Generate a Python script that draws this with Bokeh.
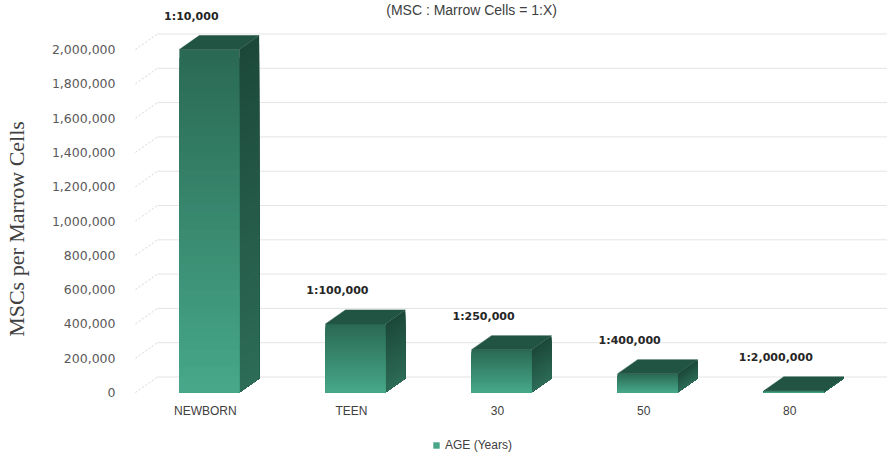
from bokeh.plotting import figure
from bokeh.models import FixedTicker, NumeralTickFormatter, Legend, LegendItem
from bokeh.core.properties import value
from bokeh.embed import file_html
from bokeh.resources import INLINE

# ---------------- data ----------------
categories = ["NEWBORN", "TEEN", "30", "50", "80"]
msc_values = [2000000, 400000, 250000, 110000, 10000]
ratio_labels = ["1:10,000", "1:100,000", "1:250,000", "1:400,000", "1:2,000,000"]
y_ticks = [0, 200000, 400000, 600000, 800000, 1000000, 1200000, 1400000,
           1600000, 1800000, 2000000]
series_name = "AGE (Years)"
y_title = "MSCs per Marrow Cells"
chart_title = "(MSC : Marrow Cells = 1:X)"

# ---------------- layout (pixels) ----------------
W, H = 887, 457
LEFT = 125
PX_CAT = 146.5            # px per category step
PX_VAL = 171.5 / 1e6      # px per value unit
ZERO_FROM_BOTTOM = 65     # px from canvas bottom to value 0 (front plane)
FIRST_CAT = 82            # px from frame left to first category centre

def dx(px):
    return px / PX_CAT

def dy(px):
    return px / PX_VAL

x_start = -dx(FIRST_CAT)
x_end = x_start + dx(W - LEFT)
y_start = -dy(ZERO_FROM_BOTTOM)
y_end = y_start + dy(H)

p = figure(width=W, height=H, x_range=(x_start, x_end), y_range=(y_start, y_end),
           output_backend="svg", toolbar_location=None,
           min_border_left=LEFT, min_border_right=0, min_border_top=0, min_border_bottom=0)
p.outline_line_color = None
p.xaxis.visible = False
p.xgrid.visible = False
p.ygrid.visible = False
p.background_fill_color = "white"
p.border_fill_color = "white"

ya = p.yaxis[0]
ya.ticker = FixedTicker(ticks=y_ticks)
ya.formatter = NumeralTickFormatter(format="0,0")
ya.axis_line_color = None
ya.major_tick_line_color = None
ya.minor_tick_line_color = None
ya.major_label_standoff = 6
ya.major_label_text_font = "DejaVu Sans"
ya.major_label_text_font_size = "12.5px"
ya.major_label_text_color = "#595959"
ya.axis_label = y_title
ya.axis_label_text_font = "Liberation Serif"
ya.axis_label_text_font_size = "22px"
ya.axis_label_text_font_style = "normal"
ya.axis_label_text_color = "#404040"
ya.axis_label_standoff = 20

# ---------------- back wall grid + diagonal leaders ----------------
WALL_X = x_start + dx(30)
WALL_DY = dy(15.5)
p.segment(x0=[WALL_X] * len(y_ticks), y0=[t + WALL_DY for t in y_ticks],
          x1=[x_end] * len(y_ticks), y1=[t + WALL_DY for t in y_ticks],
          line_color="#e4e4e4", line_width=1)
p.segment(x0=[x_start + dx(8)] * len(y_ticks), y0=y_ticks,
          x1=[WALL_X] * len(y_ticks), y1=[t + WALL_DY for t in y_ticks],
          line_color="#d6d6d6", line_width=1, line_dash="2 2")

# ---------------- 3D bars ----------------
def mix(c1, c2, f):
    a = [int(c1[i:i + 2], 16) for i in (1, 3, 5)]
    b = [int(c2[i:i + 2], 16) for i in (1, 3, 5)]
    return "#%02x%02x%02x" % tuple(round(a[k] + (b[k] - a[k]) * f) for k in range(3))

FRONT_BOTTOM, FRONT_TOP = "#47a889", "#2a6954"
SIDE_BOTTOM, SIDE_TOP = "#2d6c57", "#1c4839"
TOP_COLOR = "#215443"
HW = dx(30)
DDX, DDY = dx(20), dy(14)
N = 40

# overlapping bands: each band runs from 0 up to its own top, drawn tallest first,
# so no seams appear between neighbouring colours
fl, fr, fb, ft, fc = [], [], [], [], []
sxs, sys_, sc = [], [], []
txs, tys = [], []
for k in range(N, 0, -1):
    f = (k - 0.5) / N
    for i, v in enumerate(msc_values):
        t = v * k / N
        fl.append(i - HW); fr.append(i + HW); fb.append(0); ft.append(t)
        fc.append(mix(FRONT_BOTTOM, FRONT_TOP, f))
        sxs.append([i + HW, i + HW + DDX, i + HW + DDX, i + HW])
        sys_.append([0, DDY, t + DDY, t])
        sc.append(mix(SIDE_BOTTOM, SIDE_TOP, f))
for i, v in enumerate(msc_values):
    txs.append([i - HW, i - HW + DDX, i + HW + DDX, i + HW])
    tys.append([v, v + DDY, v + DDY, v])

p.patches(xs=sxs, ys=sys_, fill_color=sc, line_color=None)
front = p.quad(left=fl, right=fr, bottom=fb, top=ft, fill_color=fc, line_color=None)
p.patches(xs=txs, ys=tys, fill_color=TOP_COLOR, line_color=TOP_COLOR, line_width=0.5)

# ---------------- texts ----------------
xs_idx = list(range(len(categories)))
p.text(x=[i - dx(18) for i in xs_idx], y=[v + dy(33) for v in msc_values], text=ratio_labels,
       text_font=value("DejaVu Sans"), text_font_style="bold", text_font_size="11px",
       text_color="#262626", text_align="center", text_baseline="middle")

p.text(x=[i - dx(4) for i in xs_idx], y=[-dy(18)] * len(categories), text=categories,
       text_font=value("Liberation Sans"), text_font_size="12px",
       text_color="#404040", text_align="center", text_baseline="middle")

p.text(x=[x_start + dx(470 - LEFT)], y=[dy(392 - 9)], text=[chart_title],
       text_font=value("Liberation Sans"), text_font_size="14px",
       text_color="#404040", text_align="center", text_baseline="middle")

# ---------------- legend ----------------
legend = Legend(items=[LegendItem(label=series_name, renderers=[front], index=len(fc) - 1)],
                location=(430 - LEFT, 5), orientation="horizontal",
                glyph_width=8, glyph_height=8, padding=0, margin=0, spacing=0,
                label_standoff=5, border_line_color=None, background_fill_alpha=0,
                label_text_font="Liberation Sans", label_text_font_size="12px",
                label_text_color="#404040")
p.add_layout(legend, "center")

open("out.html", "w").write(file_html(p, INLINE))
